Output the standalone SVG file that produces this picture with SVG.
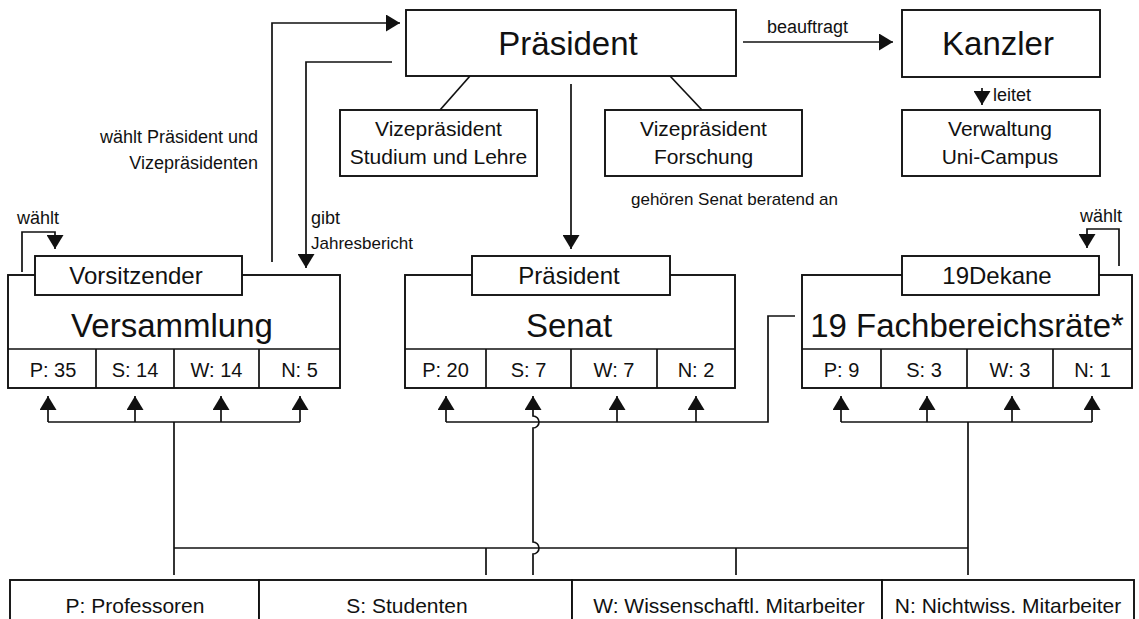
<svg xmlns="http://www.w3.org/2000/svg" width="1139" height="619" viewBox="0 0 1139 619">
<style>
text{font-family:"Liberation Sans",Arial,Helvetica,sans-serif;fill:#111}
.box{fill:#fff;stroke:#111;stroke-width:1.9}
.ln{fill:none;stroke:#111;stroke-width:1.7}
.arr{marker-end:url(#ah)}
.big{font-size:33px;text-anchor:middle}
.mid{font-size:24px;text-anchor:middle}
.bt{font-size:21px;text-anchor:middle}
.seat{font-size:20px;text-anchor:middle}
.lbl{font-size:18px}
.lbs{font-size:17px}
.bot{font-size:21px;text-anchor:middle}
</style>
<defs>
<marker id="ah" markerUnits="userSpaceOnUse" markerWidth="14" markerHeight="17" viewBox="0 0 14 17" refX="14" refY="8.5" orient="auto">
<path d="M0,0 L14,8.5 L0,17 z" fill="#111"/>
</marker>
</defs>
<rect width="1139" height="619" fill="#fff"/>

<g id="connectors">
<path class="ln arr" d="M272,262 V23 H400"/>
<path class="ln arr" d="M392,62 H306 V268"/>
<path class="ln arr" d="M22,272 V232 H55 V249"/>
<path class="ln arr" d="M571,84 V249"/>
<path class="ln arr" d="M743,42 H893"/>
<path class="ln arr" d="M982,88 V105"/>
<path class="ln arr" d="M1119,266 V229 H1087 V248"/>
<path class="ln" d="M470,76 L440,110"/>
<path class="ln" d="M670,76 L702,110"/>
<path class="ln" d="M48,422 H300"/>
<path class="ln arr" d="M48,422 V396"/>
<path class="ln arr" d="M135,422 V396"/>
<path class="ln arr" d="M221,422 V396"/>
<path class="ln arr" d="M300,422 V396"/>
<path class="ln" d="M174,422 V575"/>
<path class="ln" d="M446,422 H768 V316 H795"/>
<path class="ln arr" d="M446,422 V396"/>
<path class="ln arr" d="M533,575 V554 A6,6 0 0 0 533,542 V428 A6,6 0 0 0 533,416 V396"/>
<path class="ln arr" d="M617,422 V396"/>
<path class="ln arr" d="M696,422 V396"/>
<path class="ln" d="M841,422 H1092"/>
<path class="ln arr" d="M841,422 V396"/>
<path class="ln arr" d="M927,422 V396"/>
<path class="ln arr" d="M1012,422 V396"/>
<path class="ln arr" d="M1092,422 V396"/>
<path class="ln" d="M968,422 V575"/>
<path class="ln" d="M174,548 H968"/>
<path class="ln" d="M486,548 V575"/>
<path class="ln" d="M736,548 V575"/>
</g>

<g id="labels">
<text class="lbl" x="767" y="33">beauftragt</text>
<text class="lbl" x="993" y="101">leitet</text>
<text class="lbl" x="258" y="143" text-anchor="end">wählt Präsident und</text>
<text class="lbl" x="258" y="169" text-anchor="end">Vizepräsidenten</text>
<text class="lbl" x="311" y="224">gibt</text>
<text class="lbs" x="311" y="249">Jahresbericht</text>
<text class="lbl" x="17" y="224">wählt</text>
<text class="lbl" x="1080" y="222">wählt</text>
<text class="lbs" x="631" y="205">gehören Senat beratend an</text>
</g>

<g id="praesident">
<rect class="box" x="406" y="10" width="330" height="66"/>
<text class="big" x="568" y="55">Präsident</text>
</g>
<g id="kanzler">
<rect class="box" x="902" y="10" width="198" height="67"/>
<text class="big" x="998" y="55">Kanzler</text>
</g>
<g id="vp-studium">
<rect class="box" x="340" y="110" width="197" height="66"/>
<text class="bt" x="438.5" y="136">Vizepräsident</text>
<text class="bt" x="438.5" y="164">Studium und Lehre</text>
</g>
<g id="vp-forschung">
<rect class="box" x="605" y="110" width="197" height="66"/>
<text class="bt" x="703.5" y="136">Vizepräsident</text>
<text class="bt" x="703.5" y="164">Forschung</text>
</g>
<g id="verwaltung">
<rect class="box" x="902" y="110" width="198" height="66"/>
<text class="bt" x="1000" y="136">Verwaltung</text>
<text class="bt" x="1000" y="164">Uni-Campus</text>
</g>

<g id="versammlung">
<rect class="box" x="8" y="275" width="332" height="113"/>
<path class="ln" d="M8,349 H340 M96,349 V388 M174,349 V388 M259,349 V388"/>
<rect class="box" x="35" y="256" width="207" height="39"/>
<text class="mid" x="136" y="284">Vorsitzender</text>
<text class="big" x="172" y="337">Versammlung</text>
<text class="seat" x="53" y="377">P: 35</text>
<text class="seat" x="135" y="377">S: 14</text>
<text class="seat" x="216.5" y="377">W: 14</text>
<text class="seat" x="299.5" y="377">N: 5</text>
</g>

<g id="senat">
<rect class="box" x="405" y="275" width="330" height="113"/>
<path class="ln" d="M405,349 H735 M486,349 V388 M571,349 V388 M657,349 V388"/>
<rect class="box" x="472" y="256" width="198" height="39"/>
<text class="mid" x="569" y="284">Präsident</text>
<text class="big" x="569" y="337">Senat</text>
<text class="seat" x="445.5" y="377">P: 20</text>
<text class="seat" x="528.5" y="377">S: 7</text>
<text class="seat" x="614" y="377">W: 7</text>
<text class="seat" x="696" y="377">N: 2</text>
</g>

<g id="fachbereichsraete">
<rect class="box" x="802" y="275" width="330" height="113"/>
<path class="ln" d="M802,349 H1132 M881,349 V388 M967,349 V388 M1053,349 V388"/>
<rect class="box" x="902" y="256" width="197" height="39"/>
<text class="mid" x="997" y="284">19Dekane</text>
<text class="big" x="967" y="337">19 Fachbereichsräte*</text>
<text class="seat" x="841.5" y="377">P: 9</text>
<text class="seat" x="924" y="377">S: 3</text>
<text class="seat" x="1010" y="377">W: 3</text>
<text class="seat" x="1092.5" y="377">N: 1</text>
</g>

<g id="professoren">
<rect class="box" x="10" y="580" width="249" height="60"/>
<text class="bot" x="135" y="613">P: Professoren</text>
</g>
<g id="studenten">
<rect class="box" x="259" y="580" width="313" height="60"/>
<text class="bot" x="407" y="613">S: Studenten</text>
</g>
<g id="wiss-mitarbeiter">
<rect class="box" x="572" y="580" width="310" height="60"/>
<text class="bot" x="729" y="613">W: Wissenschaftl. Mitarbeiter</text>
</g>
<g id="nichtwiss-mitarbeiter">
<rect class="box" x="882" y="580" width="252" height="60"/>
<text class="bot" x="1008" y="613">N: Nichtwiss. Mitarbeiter</text>
</g>
</svg>
